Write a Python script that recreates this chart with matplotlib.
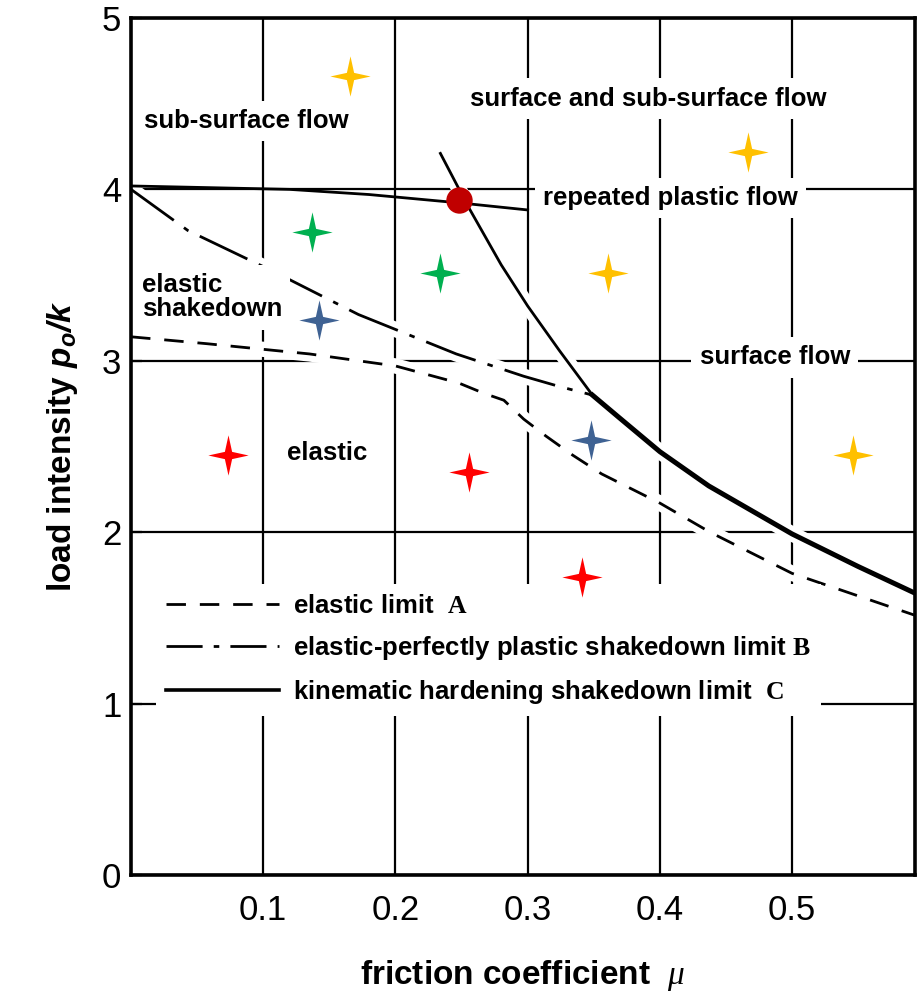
import matplotlib
matplotlib.use("Agg")
import matplotlib.pyplot as plt
from matplotlib.path import Path
from matplotlib.lines import Line2D
import numpy as np

plt.rcParams['font.family'] = ['Liberation Sans', 'DejaVu Sans']
plt.rcParams['mathtext.fontset'] = 'custom'
plt.rcParams['mathtext.rm'] = 'Liberation Sans'
plt.rcParams['mathtext.it'] = 'Liberation Serif:italic'
plt.rcParams['mathtext.sf'] = 'Liberation Sans:italic:bold'
plt.rcParams['mathtext.bf'] = 'Liberation Serif:bold'
plt.rcParams['lines.scale_dashes'] = False

# ---------------- data ----------------
# elastic limit A
A_mu = [0.0, 0.057, 0.135, 0.20, 0.248, 0.267, 0.282, 0.297, 0.314, 0.334, 0.356, 0.40, 0.438, 0.50, 0.595]
A_p = [3.14, 3.10, 3.04, 2.97, 2.87, 2.81, 2.77, 2.66, 2.56, 2.45, 2.34, 2.17, 2.00, 1.76, 1.51]
# elastic-perfectly plastic shakedown limit B
B_mu = [0.0, 0.043, 0.108, 0.172, 0.246, 0.297, 0.324, 0.349]
B_p = [4.0, 3.76, 3.52, 3.27, 3.04, 2.91, 2.85, 2.80]
# kinematic hardening shakedown limit C (plateau + curve)
C_flat_mu = [0.0, 0.12, 0.18, 0.25, 0.30]
C_flat_p = [4.02, 4.00, 3.97, 3.92, 3.88]
C_mu = [0.234, 0.255, 0.28, 0.30, 0.324, 0.349, 0.369, 0.40, 0.437, 0.50, 0.55, 0.597]
C_p = [4.21, 3.90, 3.56, 3.32, 3.06, 2.80, 2.67, 2.47, 2.27, 1.99, 1.80, 1.63]

# experiment stars
yellow_mu = [0.166, 0.467, 0.361, 0.546]
yellow_p = [4.66, 4.22, 3.51, 2.45]
green_mu = [0.137, 0.234]
green_p = [3.75, 3.51]
blue_mu = [0.142, 0.348]
blue_p = [3.24, 2.54]
red_mu = [0.073, 0.256, 0.341]
red_p = [2.45, 2.35, 1.74]
dot_mu = [0.248]
dot_p = [3.94]

x_ticks = [0.1, 0.2, 0.3, 0.4, 0.5]
x_ticklabels = ['0.1', '0.2', '0.3', '0.4', '0.5']
y_ticks = [0, 1, 2, 3, 4, 5]
y_ticklabels = ['0', '1', '2', '3', '4', '5']

regions = [
    ('sub-surface flow', 0.087, 4.40, 'center'),
    ('surface and sub-surface flow', 0.391, 4.53, 'center'),
    ('repeated plastic flow', 0.408, 3.95, 'center'),
    ('elastic\nshakedown', 0.008, 3.37, 'left'),
    ('surface flow', 0.487, 3.02, 'center'),
    ('elastic', 0.148, 2.46, 'center'),
]

# ---------------- figure ----------------
fig = plt.figure(figsize=(9.17, 9.93), dpi=100)
ax = fig.add_axes([0.1429, 0.1188, 0.8549, 0.8631])
ax.set_xlim(0, 0.593)
ax.set_ylim(0, 5)
ax.set_axisbelow(True)
ax.grid(True, color='black', lw=1.6)

for s in ax.spines.values():
    s.set_linewidth(2.6)

# white halos to break the grid where curves cross
halo = dict(color='white', lw=11, solid_capstyle='butt', zorder=1.5)
ax.plot(A_mu, A_p, **halo)
ax.plot(B_mu, B_p, **halo)
ax.plot(C_mu, C_p, **halo)

dash_A = (14, 10)
dash_B = (38, 9, 4, 9)
ax.plot(A_mu, A_p, color='black', lw=2.0, dashes=dash_A, zorder=2)
ax.plot(B_mu, B_p, color='black', lw=2.0, dashes=dash_B, zorder=2)
ax.plot(C_flat_mu, C_flat_p, color='black', lw=2.0, zorder=2)
ax.plot(C_mu, C_p, color='black', lw=2.0, zorder=2)
C_arr_mu = np.array(C_mu)
C_arr_p = np.array(C_p)
sel = C_arr_mu >= B_mu[-1]
ax.plot(C_arr_mu[sel], C_arr_p[sel], color='black', lw=3.6, zorder=2)

# 4-point star marker
a = 0.18
star = Path([(0, 1), (a, a), (1, 0), (a, -a), (0, -1), (-a, -a), (-1, 0), (-a, a), (0, 1)],
            [Path.MOVETO] + [Path.LINETO] * 7 + [Path.CLOSEPOLY])
ms = 29
ax.plot(yellow_mu, yellow_p, ls='none', marker=star, ms=ms, color='#FFC000', mew=0, zorder=3)
ax.plot(green_mu, green_p, ls='none', marker=star, ms=ms, color='#00B050', mew=0, zorder=3)
ax.plot(blue_mu, blue_p, ls='none', marker=star, ms=ms, color='#3F6293', mew=0, zorder=3)
ax.plot(red_mu, red_p, ls='none', marker=star, ms=ms, color='#FF0000', mew=0, zorder=3)
ax.plot(dot_mu, dot_p, ls='none', marker='o', ms=19, color='#C00000', mew=0, zorder=4)

for txt, x, y, ha in regions:
    ax.text(x, y, txt, ha=ha, va='center', fontsize=18.5, fontweight='bold',
            linespacing=1.0, zorder=2.2,
            bbox=dict(facecolor='white', edgecolor='none', pad=6))

# legend
handles = [
    Line2D([], [], color='black', lw=2.0, dashes=dash_A),
    Line2D([], [], color='black', lw=2.0, dashes=(26, 8, 4, 8)),
    Line2D([], [], color='black', lw=2.6),
]
labels = [r'elastic limit  $\mathbf{A}$',
          r'elastic-perfectly plastic shakedown limit $\mathbf{B}$',
          r'kinematic hardening shakedown limit  $\mathbf{C}$']
leg = ax.legend(handles, labels, loc='upper left', bbox_to_anchor=(0.015, 0.355),
                frameon=True, fancybox=False, framealpha=1, edgecolor='none',
                prop={'weight': 'bold', 'size': 18.5}, handlelength=4.4,
                handletextpad=0.55, labelspacing=0.62, borderpad=0.4)
leg.set_zorder(2.3)

ax.set_xticks(x_ticks)
ax.set_xticklabels(x_ticklabels)
ax.set_yticks(y_ticks)
ax.set_yticklabels(y_ticklabels)
ax.tick_params(axis='x', length=0, pad=14, labelsize=25)
ax.tick_params(axis='y', direction='in', length=8, width=1.6, pad=7, labelsize=25)

ax.set_xlabel(r'friction coefficient  $\mu$', fontsize=24, fontweight='bold', labelpad=22)
ax.set_ylabel(r'load intensity $\mathsf{p_o/k}$', fontsize=24, fontweight='bold', labelpad=16)

fig.savefig('out.png', dpi=100)
